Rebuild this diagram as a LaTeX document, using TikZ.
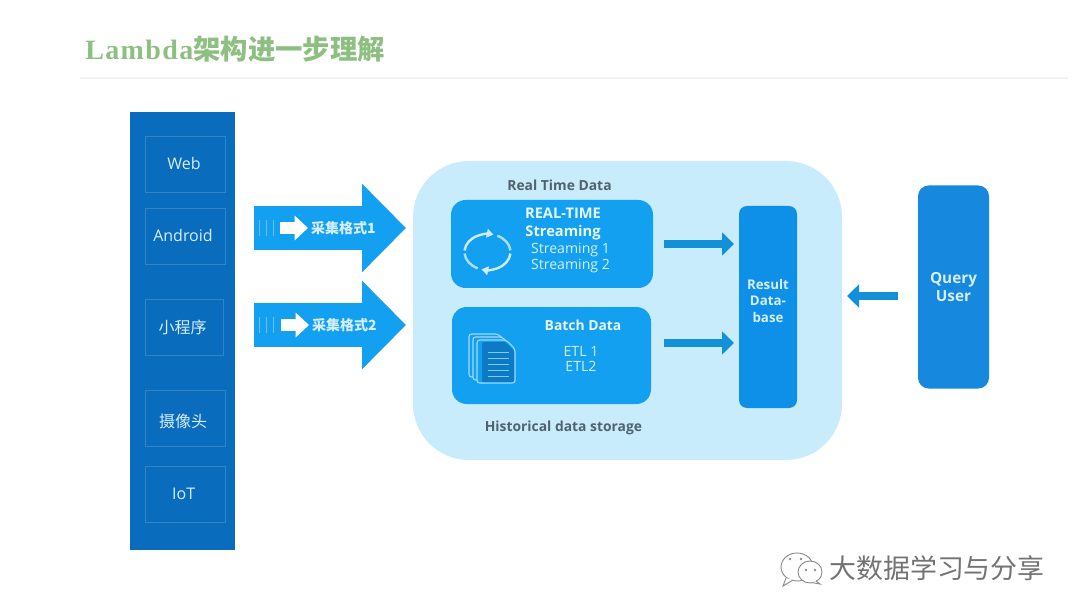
\documentclass[tikz,border=0pt]{standalone}
\usepackage{fontspec}
\setmainfont{Open Sans}
\newfontfamily\cjk{Noto Sans CJK SC}
\newfontfamily\titlelat[LetterSpace=5]{Liberation Serif}
\usetikzlibrary{arrows.meta,calc}
\definecolor{coldeep}{HTML}{0A6CBD}
\definecolor{colline}{HTML}{3283C8}
\definecolor{arrowblue}{HTML}{14A0F0}
\definecolor{blobblue}{HTML}{C9ECFC}
\definecolor{resultblue}{HTML}{0F90E8}
\definecolor{queryblue}{HTML}{1688DE}
\definecolor{captext}{HTML}{50626E}
\definecolor{bodytext}{HTML}{D5EEFC}
\definecolor{titlegreen}{HTML}{8DBF80}
\tikzset{
  box/.style={anchor=center,inner sep=0pt,outer sep=0pt},
  srcbox/.style={box,draw=colline,line width=0.6pt,fill=coldeep,text=bodytext,font=\fontsize{12}{14}\selectfont,minimum width=60pt},
  bigarrow/.style={arrowblue,line width=33pt,-{Triangle[length=33pt,width=64.5pt]}},
  midarrow/.style={arrowblue!90!black,line width=6pt,-{Triangle[length=9pt,width=17pt]}},
  caption/.style={text=captext,font=\fontsize{10.4}{12}\selectfont\bfseries},
  boxtext/.style={text=bodytext,font=\fontsize{10.6}{11.8}\selectfont,align=center},
  boxhead/.style={text=white!90!arrowblue,font=\fontsize{11}{12.8}\selectfont\bfseries,align=center},
  fmt/.style={text=bodytext,font=\cjk\fontsize{10.5}{12}\selectfont\bfseries},
  glyph/.style={white!80!arrowblue,line width=1.8pt},
  wm/.style={draw=black!45,fill=white,line width=0.7pt}
}
\begin{document}
\begin{tikzpicture}[x=0.75pt,y=-0.75pt]
\useasboundingbox (0,0) rectangle (1080,616);
% title
\node[anchor=west,inner sep=0pt,text=titlegreen,font=\fontsize{21}{24}\selectfont\bfseries] (title) at (85,49) {{\titlelat Lambda}{\cjk\fontsize{20.5}{24}\selectfont 架构进一步理解}};
\fill[black!5] (80,77) rectangle (1068,79);
% left column
\node[box,fill=coldeep,minimum width=78.75pt,minimum height=328.5pt] (col) at (182.5,331) {};
\node[srcbox,minimum height=42pt] (web) at (185,164) {\makebox[0pt]{\hspace{-1.5pt}Web}};
\node[srcbox,minimum height=42pt] (android) at (185,236) {\makebox[0pt]{\hspace{-3pt}Android}};
\node[srcbox,minimum height=42pt,minimum width=58.5pt,font=\cjk\fontsize{12}{14}\selectfont] (mini) at (184,327) {\makebox[0pt]{\hspace{-2pt}小程序}};
\node[srcbox,minimum height=42pt] (cam) at (185,418) {};
\node[text=bodytext,inner sep=0pt,font=\cjk\fontsize{12}{14}\selectfont] (camtext) at (183,421) {摄像头};
\node[srcbox,minimum height=42pt] (iot) at (185,494) {\makebox[0pt]{\hspace{-2pt}IoT}};
% central area
\node[box,fill=blobblue,rounded corners=42pt,minimum width=321.75pt,minimum height=224.25pt] (blob) at (627.5,310.5) {};
\node[box,fill=arrowblue,rounded corners=11pt,minimum width=151.5pt,minimum height=66pt] (stream) at (552,244) {};
\node[box,fill=arrowblue,rounded corners=11pt,minimum width=149.25pt,minimum height=72.75pt] (batch) at (551.5,355.5) {};
\node[box,fill=resultblue,rounded corners=6pt,minimum width=43.5pt,minimum height=151.5pt] (result) at (768,307) {};
\node[text=bodytext,align=center,inner sep=0pt,font=\fontsize{10}{12.4}\selectfont\bfseries] (restext) at (768,301) {Result\\Data-\\base};
\node[box,fill=queryblue,rounded corners=8pt,minimum width=53.25pt,minimum height=152.25pt,text=bodytext,align=center,font=\fontsize{11.5}{13.5}\selectfont\bfseries] (query) at (953.5,287) {Query\\User};
% captions and box texts
\node[caption] (rtcap) at (559.5,185) {Real Time Data};
\node[caption] (hist) at (563.5,428) {Historical data storage};
\node[boxhead] (rthead) at (563,224) {REAL-TIME\\Streaming};
\node[boxtext] (rtbody) at (570.5,258) {Streaming 1\\Streaming 2};
\node[boxhead,font=\fontsize{10.4}{12}\selectfont\bfseries] (bhead) at (583,325) {Batch Data};
\node[boxtext] (bbody) at (581,359) {ETL 1\\ETL2};
% cycle icon
\coordinate (cyc) at (487.5,252);
\draw[glyph,-{Triangle[length=5pt,width=6.5pt]}] ($(cyc)+(185:23 and 18)$) arc[start angle=185,end angle=285,x radius=23,y radius=18];
\draw[glyph,-{Triangle[length=5pt,width=6.5pt]}] ($(cyc)+(5:23 and 18)$) arc[start angle=5,end angle=105,x radius=23,y radius=18];
\draw[glyph,white!65!arrowblue] ($(cyc)+(295:23 and 18)$) arc[start angle=295,end angle=355,x radius=23,y radius=18];
\draw[glyph,white!65!arrowblue] ($(cyc)+(115:23 and 18)$) arc[start angle=115,end angle=175,x radius=23,y radius=18];
% document icon
\foreach \dx/\dy in {0/0,4/3,8/6}{
  \draw[white!60!arrowblue,fill=arrowblue,line width=0.8pt,rounded corners=2pt] (469+\dx,334+\dy) -- (498+\dx,334+\dy) -- (507+\dx,343+\dy) -- (507+\dx,377+\dy) -- (469+\dx,377+\dy) -- cycle;
}
\fill[resultblue!85!black,rounded corners=1pt] (482,342) -- (505,342) -- (514,351) -- (514,382) -- (482,382) -- cycle;
\foreach \yy in {352,358,364,370,376}{\draw[white!45!arrowblue,line width=0.7pt] (488,\yy) -- (509,\yy);}
% big arrows
\draw[bigarrow,shorten <=14.25pt,shorten >=5.25pt] (col.east |- 0,228) -- (blob.west |- 0,228);
\draw[bigarrow,shorten <=14.25pt,shorten >=5.25pt] (col.east |- 0,325) -- (blob.west |- 0,325);
\foreach \yy in {228,325}{
  \foreach \xx in {259,266,273}{\draw[white!35!arrowblue,line width=0.4pt] (\xx,\yy-8) -- (\xx,\yy+8);}
}
\node[fmt] (fmt1) at (343.5,228) {采集格式1};
\node[fmt] (fmt2) at (344.5,325) {采集格式2};
\coordinate (w1a) at (280,228); \coordinate (w1b) at (308,228);
\coordinate (w2a) at (281,325); \coordinate (w2b) at (309,325);
\draw[white,line width=9pt,-{Triangle[length=10pt,width=18pt]}] (w1a) -- (w1b);
\draw[white,line width=9pt,-{Triangle[length=10pt,width=18pt]}] (w2a) -- (w2b);
% small arrows
\draw[midarrow,shorten <=8.25pt,shorten >=3.75pt] (stream.east) -- (stream.east -| result.west);
\draw[midarrow,shorten <=9.75pt,shorten >=3.75pt] (batch.east |- 0,343) -- (result.west |- 0,343);
\draw[midarrow,shorten <=15pt,shorten >=37.5pt] (query.west |- 0,296) -- (result.east |- 0,296);
% watermark
\draw[wm] (797,567) ellipse[x radius=16,y radius=14];
\draw[wm] (786,578) -- (783,586) -- (793,580);
\draw[wm] (810,572) ellipse[x radius=12,y radius=11];
\draw[wm] (816,581) -- (820,584) -- (812,582.6);
\foreach \p in {(790,559),(801,559),(806,570),(815,570)}{\fill[black!45] \p circle[radius=1.4];}
\node[anchor=west,inner sep=0pt,text=black!55,font=\cjk\fontsize{20.2}{24}\selectfont] (mark) at (829,568) {大数据学习与分享};
\end{tikzpicture}
\end{document}
